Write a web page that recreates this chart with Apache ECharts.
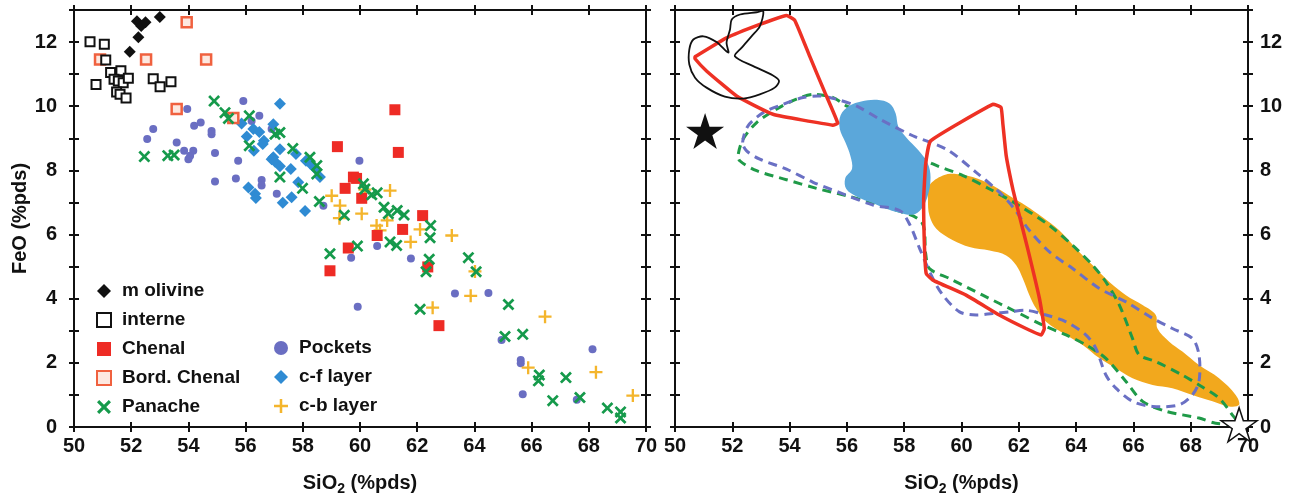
<!DOCTYPE html>
<html><head><meta charset="utf-8">
<script src="https://cdn.jsdelivr.net/npm/echarts@6/dist/echarts.min.js"></script>
<style>html,body{margin:0;padding:0;background:#fff}#c{width:1290px;height:501px}</style>
</head><body><div id="c"></div>
<script>
// ---------- data (SiO2, FeO) ----------
const xTicks = [50,52,54,56,58,60,62,64,66,68,70];
const yTicks = [0,2,4,6,8,10,12];

const mOlivine = [[52.2,12.65],[52.35,12.5],[52.5,12.62],[53.0,12.78],[52.25,12.15],[51.95,11.7]];
const interne = [[50.56,12.01],[51.06,11.93],[51.11,11.44],[51.28,11.05],[51.64,11.11],[50.77,10.68],[51.4,10.84],[51.55,10.79],[51.72,10.73],[51.9,10.87],[51.49,10.44],[51.61,10.37],[51.82,10.26],[52.77,10.86],[53.01,10.61],[53.39,10.76]];
const chenal = [[61.22,9.89],[61.34,8.56],[59.21,8.74],[59.77,7.79],[59.88,7.75],[59.48,7.44],[60.06,7.13],[62.19,6.59],[61.49,6.16],[60.6,5.97],[59.59,5.58],[58.95,4.87],[62.37,4.99],[62.76,3.16]];
const bordChenal = [[53.94,12.62],[50.91,11.46],[52.52,11.46],[54.62,11.46],[53.59,9.91],[55.57,9.63]];
const panache = [[54.9,10.16],[55.28,9.8],[55.4,9.62],[56.13,9.7],[57.2,9.18],[57.03,9.13],[56.13,8.77],[52.46,8.43],[53.28,8.46],[53.5,8.48],[57.65,8.68],[58.25,8.41],[58.49,8.15],[58.49,7.89],[57.2,7.79],[57.99,7.44],[58.58,7.03],[59.45,6.6],[60.12,7.58],[60.17,7.42],[60.41,7.24],[60.6,7.3],[60.84,6.85],[60.99,6.65],[61.3,6.75],[61.54,6.61],[62.47,6.28],[62.45,5.9],[61.05,5.77],[61.28,5.66],[59.91,5.64],[58.95,5.4],[62.42,5.23],[62.31,4.84],[63.79,5.28],[64.06,4.84],[62.1,3.67],[65.19,3.82],[65.07,2.82],[65.69,2.89],[66.27,1.62],[66.24,1.44],[67.2,1.54],[66.74,0.82],[67.69,0.92],[68.65,0.59],[69.11,0.47],[69.11,0.28]];
const pockets = [[53.96,9.91],[55.92,10.16],[52.77,9.29],[52.56,8.98],[53.59,8.87],[54.2,9.39],[54.43,9.49],[54.81,9.23],[54.81,9.13],[56.48,9.7],[56.21,9.54],[53.85,8.61],[54.17,8.61],[54.06,8.46],[54.0,8.35],[54.93,8.54],[55.74,8.3],[54.93,7.65],[55.66,7.75],[56.56,7.7],[56.56,7.53],[57.09,7.27],[56.91,9.29],[58.72,6.9],[59.98,8.3],[60.6,5.64],[59.69,5.28],[61.78,5.25],[59.92,3.75],[63.32,4.16],[64.49,4.18],[64.95,2.71],[65.62,2.09],[65.62,1.99],[65.69,1.02],[67.58,0.85],[68.13,2.42]];
const cfLayer = [[57.2,10.08],[55.86,9.46],[56.97,9.44],[56.27,9.29],[56.48,9.2],[56.04,9.06],[56.64,8.92],[56.6,8.82],[56.29,8.61],[57.2,8.66],[56.97,8.41],[56.91,8.35],[57.76,8.51],[58.11,8.3],[58.27,8.2],[58.43,8.06],[58.6,7.79],[57.58,8.04],[57.03,8.27],[57.2,8.13],[57.84,7.63],[56.1,7.47],[56.33,7.27],[56.36,7.14],[57.3,6.99],[57.61,7.16],[58.08,6.73]];
const cbLayer = [[59.01,7.21],[59.3,6.9],[59.28,6.51],[60.06,6.65],[60.17,7.4],[61.05,7.37],[60.58,6.28],[60.7,6.13],[60.95,6.44],[62.1,6.16],[63.21,5.97],[61.77,5.77],[64.02,4.85],[63.87,4.09],[62.54,3.72],[66.47,3.44],[65.88,1.85],[68.25,1.71],[69.54,0.98]];

// right panel fields (outlines)
const blackField = [[53.08,12.96],[52.96,12.49],[52.67,12.18],[52.32,11.82],[52.09,11.56],[52.73,11.25],[53.42,10.96],[53.63,10.79],[53.48,10.58],[52.96,10.37],[52.38,10.24],[51.74,10.3],[51.1,10.58],[50.7,10.89],[50.5,11.3],[50.5,11.77],[50.64,12.08],[50.99,12.18],[51.45,12.0],[51.86,11.67],[51.8,11.98],[51.92,12.39],[51.98,12.7],[52.27,12.86],[52.85,12.93]];
const redField1 = [[50.7,11.54],[51.8,12.13],[52.96,12.55],[53.89,12.83],[54.18,12.68],[54.7,11.56],[55.23,10.43],[55.68,9.47],[55.51,9.41],[53.42,9.75],[52.15,10.32],[51.1,11.1],[50.7,11.48]];
const redField2 = [[58.92,8.92],[61.09,10.06],[61.38,9.96],[61.44,9.49],[61.56,8.46],[61.79,7.42],[61.96,6.8],[62.31,5.56],[62.72,4.01],[62.89,3.07],[62.78,2.87],[62.25,3.07],[61.32,3.49],[60.16,4.11],[59.0,4.58],[58.77,4.78],[58.71,5.56],[58.68,7.11],[58.75,8.2]];
const cfField = [[55.78,9.72],[56.1,10.02],[56.5,10.15],[57.05,10.2],[57.5,10.08],[57.7,9.78],[57.8,9.35],[58.08,9.02],[58.48,8.64],[58.82,8.22],[58.92,7.78],[58.82,7.2],[58.6,6.8],[58.3,6.62],[57.84,6.68],[57.3,6.83],[56.9,6.98],[56.35,7.18],[55.98,7.42],[55.94,7.75],[56.18,8.05],[56.12,8.46],[55.95,8.87],[55.75,9.3]];
const cbField = [[58.88,7.53],[59.35,7.84],[59.81,7.89],[60.39,7.79],[61.09,7.53],[61.67,7.21],[62.25,6.9],[62.83,6.54],[63.41,6.13],[64.0,5.56],[64.58,5.04],[65.16,4.52],[65.74,4.11],[66.32,3.8],[66.78,3.49],[66.84,3.07],[67.25,2.66],[67.71,2.35],[68.29,1.93],[68.99,1.52],[69.57,1.0],[69.69,0.69],[69.34,0.64],[68.76,0.8],[68.06,1.0],[67.36,1.21],[66.67,1.31],[65.97,1.52],[65.39,1.83],[64.81,2.15],[64.23,2.56],[63.65,2.87],[62.95,3.28],[62.6,3.7],[62.37,4.11],[62.14,4.63],[61.91,5.04],[61.56,5.35],[60.98,5.5],[60.28,5.61],[59.7,5.82],[59.12,6.18],[58.88,6.59],[58.83,7.11]];
const panacheField = [[52.21,8.51],[52.38,8.98],[52.85,9.49],[53.54,9.91],[54.24,10.22],[54.82,10.37],[55.52,10.27],[55.98,10.01],[56.8,9.7],[57.49,9.29],[57.84,8.98],[58.3,8.56],[59.0,8.2],[60.05,7.84],[60.98,7.42],[62.02,6.9],[63.07,6.28],[63.88,5.66],[64.58,5.04],[65.04,4.52],[65.51,3.8],[65.97,2.76],[66.2,2.25],[66.78,2.04],[67.71,1.62],[68.29,1.31],[68.99,0.9],[69.45,0.38],[69.63,0.12],[68.87,0.12],[68.29,0.28],[67.13,0.49],[66.32,0.8],[65.74,1.42],[65.04,2.14],[64.34,2.56],[63.65,2.87],[62.83,3.18],[61.91,3.59],[60.74,4.11],[59.58,4.63],[58.88,4.94],[58.75,5.4],[58.6,6.4],[57.4,6.85],[55.98,7.21],[54.94,7.44],[53.89,7.71],[52.85,7.99],[52.26,8.3]];
const pocketsField = [[52.36,8.87],[52.55,9.39],[53.08,9.8],[53.77,10.06],[54.47,10.27],[55.05,10.32],[55.63,10.22],[56.33,10.01],[57.14,9.6],[58.3,9.08],[59.47,8.66],[60.51,7.94],[61.32,7.32],[61.8,6.85],[62.35,6.15],[63.07,5.46],[63.88,4.94],[64.81,4.32],[65.74,3.9],[66.67,3.39],[67.36,3.07],[68.06,2.76],[68.29,2.25],[68.29,1.42],[68.06,1.0],[67.6,0.69],[66.67,0.64],[65.97,0.8],[65.39,1.21],[65.04,1.62],[64.69,2.45],[64.34,2.87],[63.65,3.28],[62.95,3.49],[62.25,3.64],[61.67,3.59],[61.09,3.54],[60.51,3.49],[59.93,3.59],[59.35,4.11],[59.0,4.63],[58.54,5.56],[58.2,6.3],[57.84,6.75],[56.91,6.92],[55.86,7.27],[54.82,7.63],[53.89,8.04],[52.96,8.35],[52.5,8.61]];
const starBlack = [[51.05,9.23]];
const starWhite = [[69.69,0.07]];

// ---------- chart ----------
const FONT = "'Liberation Sans',Arial,sans-serif";
const PATH_X = 'path://M0,1.6 L1.6,0 L5,3.4 L8.4,0 L10,1.6 L6.6,5 L10,8.4 L8.4,10 L5,6.6 L1.6,10 L0,8.4 L3.4,5 Z';
const PATH_PLUS = 'path://M4.1,0 L5.9,0 L5.9,4.1 L10,4.1 L10,5.9 L5.9,5.9 L5.9,10 L4.1,10 L4.1,5.9 L0,5.9 L0,4.1 L4.1,4.1 Z';
const PATH_STAR = 'path://M50,0 L61.2,34.5 L97.6,34.5 L68.2,55.9 L79.4,90.5 L50,69.1 L20.6,90.5 L31.8,55.9 L2.4,34.5 L38.8,34.5 Z';

const grids = [
  {left: 74, right: 644, top: 10, bottom: 72},
  {left: 675, right: 42, top: 10, bottom: 72}
];
const lineStyle = {color: '#111', width: 2};
const labelStyle = {fontFamily: FONT, fontWeight: 'bold', fontSize: 20, color: '#111'};

function xAx(g, pos, inside, label) {
  return {type: 'value', gridIndex: g, position: pos, min: xTicks[0], max: xTicks[xTicks.length-1], interval: 2,
    axisLine: {show: true, onZero: false, lineStyle}, splitLine: {show: false},
    axisTick: {show: true, inside, length: 5, lineStyle: {color: '#111', width: 2}},
    axisLabel: label ? Object.assign({show: true, margin: 9}, labelStyle) : {show: false},
    name: label ? 'SiO{s|2} (%pds)' : '', nameLocation: 'middle', nameGap: 44,
    nameTextStyle: Object.assign({}, labelStyle, {rich: {s: {fontFamily: FONT, fontWeight: 'bold', fontSize: 14, padding: [11,0,0,0], color:'#111'}}})
  };
}
function yAx(g, pos, inside, label, name) {
  return {type: 'value', gridIndex: g, position: pos, min: 0, max: 13, interval: 1,
    axisLine: {show: true, onZero: false, lineStyle}, splitLine: {show: false},
    axisTick: {show: true, inside, length: 5, lineStyle: {color: '#111', width: 2}},
    axisLabel: label ? Object.assign({show: true, margin: pos === 'left' ? 17 : 12, formatter: v => (yTicks.indexOf(v) >= 0 ? String(v) : '')}, labelStyle) : {show: false},
    name: name || '', nameLocation: 'middle', nameGap: 39, nameTextStyle: labelStyle
  };
}
const xAxes = [
  xAx(0, 'bottom', false, true), xAx(0, 'bottom', true, false), xAx(0, 'top', true, false), xAx(0, 'top', false, false),
  xAx(1, 'bottom', false, true), xAx(1, 'bottom', true, false), xAx(1, 'top', true, false), xAx(1, 'top', false, false)
];
const yAxes = [
  yAx(0, 'left', false, true, 'FeO (%pds)'), yAx(0, 'left', true, false), yAx(0, 'right', true, false), yAx(0, 'right', false, false),
  yAx(1, 'right', false, true), yAx(1, 'right', true, false), yAx(1, 'left', true, false), yAx(1, 'left', false, false)
];

function sc(name, data, symbol, size, itemStyle, z) {
  return {type: 'scatter', name, data, xAxisIndex: 0, yAxisIndex: 0, symbol, symbolSize: size,
    itemStyle: Object.assign({opacity: 1}, itemStyle), z: z || 3, silent: true};
}
function field(points, style, smooth, z) {
  return {type: 'custom', xAxisIndex: 4, yAxisIndex: 4, silent: true, z, clip: true,
    data: [points[0]],
    renderItem: function (params, api) {
      const pts = points.map(p => api.coord(p));
      return {type: 'polygon', shape: {points: pts, smooth: smooth}, style: style};
    }
  };
}

const series = [
  sc('m olivine', mOlivine, 'diamond', 12, {color: '#111'}, 6),
  sc('interne', interne, 'rect', 9, {color: '#fff', borderColor: '#111', borderWidth: 2}, 5),
  sc('Chenal', chenal, 'rect', 11, {color: '#ee2b25'}, 4),
  sc('Bord. Chenal', bordChenal, 'rect', 10, {color: '#fde8e0', borderColor: '#f0613f', borderWidth: 2.5}, 4),
  sc('Panache', panache, PATH_X, 12, {color: '#159a4b'}, 6),
  sc('Pockets', pockets, 'circle', 8, {color: '#6a6ec2'}, 3),
  sc('c-f layer', cfLayer, 'diamond', 12, {color: '#2f8bd3'}, 3),
  sc('c-b layer', cbLayer, PATH_PLUS, 13, {color: '#f4b52c'}, 3),
  field(cbField, {fill: '#f2a81d', stroke: 'none'}, 0.35, 1),
  field(panacheField, {fill: 'none', stroke: '#1f9a48', lineWidth: 3, lineDash: [9, 6]}, 0.3, 2),
  field(cfField, {fill: '#5ba7da', stroke: 'none'}, 0.35, 3),
  field(pocketsField, {fill: 'none', stroke: '#6a70c4', lineWidth: 3, lineDash: [9, 6]}, 0.3, 4),
  field(redField1, {fill: 'none', stroke: '#ee3124', lineWidth: 3.5}, 0.12, 5),
  field(redField2, {fill: 'none', stroke: '#ee3124', lineWidth: 3.5}, 0.12, 5),
  field(blackField, {fill: 'none', stroke: '#111', lineWidth: 1.8}, 0.3, 5),
  {type: 'scatter', xAxisIndex: 4, yAxisIndex: 4, data: starBlack, symbol: PATH_STAR, symbolSize: [38, 36], itemStyle: {color: '#111', opacity: 1}, z: 6, silent: true},
  {type: 'scatter', xAxisIndex: 4, yAxisIndex: 4, data: starWhite, symbol: PATH_STAR, symbolSize: [36, 34], itemStyle: {color: '#fff', borderColor: '#111', borderWidth: 1.5, opacity: 1}, z: 6, silent: true}
];

const legendText = {fontFamily: FONT, fontWeight: 'bold', fontSize: 19, color: '#111', lineHeight: 22, padding: [0, 0, 0, 6]};
const option = {
  backgroundColor: '#fff',
  animation: false,
  grid: grids,
  xAxis: xAxes,
  yAxis: yAxes,
  legend: [
    {orient: 'vertical', left: 91, top: 275, itemWidth: 14, itemHeight: 14, itemGap: 7, textStyle: legendText,
      data: [{name: 'm olivine'}, {name: 'interne'}, {name: 'Chenal'}, {name: 'Bord. Chenal'}, {name: 'Panache', icon: PATH_X}], selectedMode: false},
    {orient: 'vertical', left: 269, top: 332, itemWidth: 14, itemHeight: 14, itemGap: 7, textStyle: legendText,
      data: [{name: 'Pockets', icon: 'circle'}, {name: 'c-f layer'}, {name: 'c-b layer', icon: PATH_PLUS}], selectedMode: false}
  ],
  series
};
const chart = echarts.init(document.getElementById('c'), null, {renderer: 'canvas'});
chart.setOption(option);
</script></body></html>
